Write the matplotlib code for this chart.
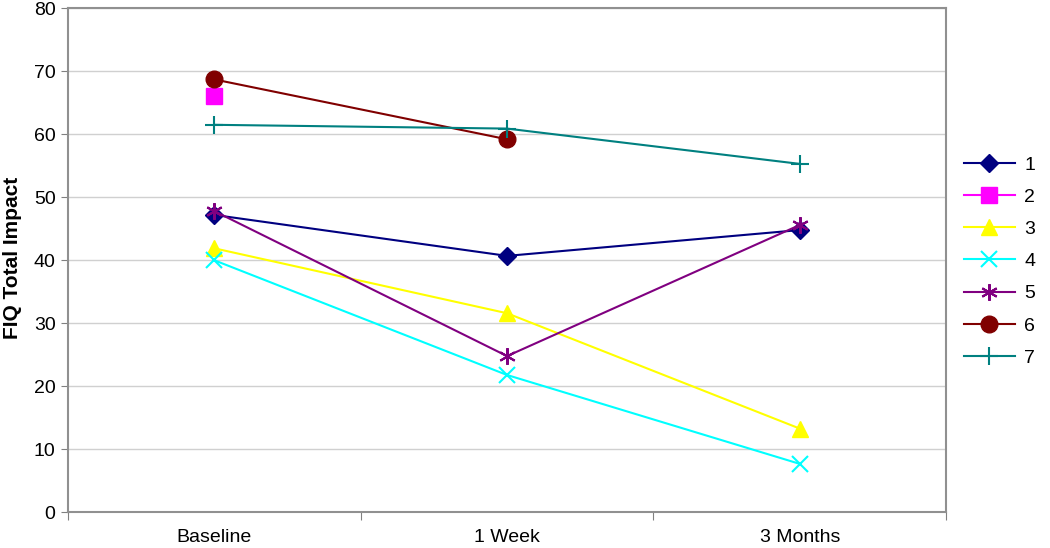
import numpy as np
import matplotlib.pyplot as plt

plt.rcParams['font.family'] = ['Liberation Sans', 'DejaVu Sans']

categories = ["Baseline", "1 Week", "3 Months"]
series_names = ["1", "2", "3", "4", "5", "6", "7"]
s1 = [47.2, 40.7, 44.8]
s2 = [66.1, np.nan, np.nan]
s3 = [41.9, 31.6, 13.3]
s4 = [40.0, 21.8, 7.7]
s5 = [47.8, 24.8, 45.6]
s6 = [68.7, 59.2, np.nan]
s7 = [61.5, 60.9, 55.3]

values = [s1, s2, s3, s4, s5, s6, s7]
colors = ["#000080", "#FF00FF", "#FFFF00", "#00FFFF", "#800080", "#800000", "#008080"]
markers = ["D", "s", "^", "x", "*", "o", "+"]
msizes = [9, 11, 11, 11, 12, 12, 13]

fig = plt.figure(figsize=(10.5, 5.48), dpi=100)
ax = fig.add_axes([0.0648, 0.065, 0.8362, 0.92])

x = np.arange(len(categories)) + 0.5
for name, y, c, m, ms in zip(series_names, values, colors, markers, msizes):
    kw = dict(color=c, marker=m, markersize=ms, linewidth=1.5, label=name)
    if m in ("x", "+"):
        kw["markeredgewidth"] = 1.5
    elif m == "*":
        # asterisk-like marker
        kw["marker"] = (6, 2, 0)
        kw["markeredgewidth"] = 1.5
    else:
        kw["markeredgecolor"] = c
    ax.plot(x, y, **kw)

ax.set_xlim(0, 3)
ax.set_ylim(0, 80)
ax.set_yticks(np.arange(0, 81, 10))
ax.set_xticks([0, 1, 2, 3])
ax.set_xticklabels([])
ax.set_xticks(x, minor=True)
ax.set_xticklabels(categories, minor=True)
ax.tick_params(axis='x', which='minor', length=0, pad=12, labelsize=14)
ax.tick_params(axis='x', which='major', length=6, color='#808080', direction='out')
ax.tick_params(axis='y', length=5, color='#808080', labelsize=14, pad=4)

ax.yaxis.grid(True, color='#d0d0d0', linewidth=1)
ax.set_axisbelow(True)
for sp in ax.spines.values():
    sp.set_color('#909090')
    sp.set_linewidth(1.5)

ax.set_ylabel("FIQ Total Impact", fontsize=15, fontweight='bold')
ax.yaxis.set_label_coords(-0.053, 0.505)

fig.legend(loc='center left', bbox_to_anchor=(0.909, 0.523), frameon=False,
           fontsize=14, handlelength=2.6, labelspacing=0.75, handletextpad=0.5,
           borderpad=0)

fig.savefig("out.png", dpi=100)
